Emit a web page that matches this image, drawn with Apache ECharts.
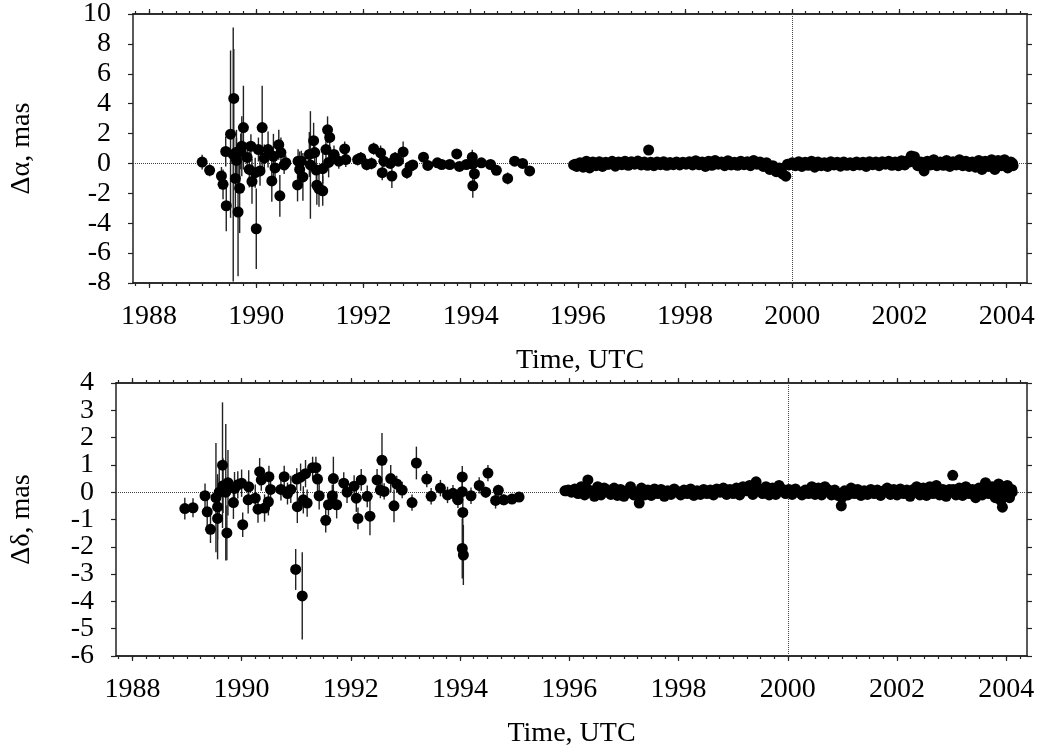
<!DOCTYPE html>
<html>
<head>
<meta charset="utf-8">
<script src="https://cdn.jsdelivr.net/npm/echarts@6/dist/echarts.min.js"></script>
<style>
  html, body { margin: 0; padding: 0; background: #fff; }
  #main { width: 1044px; height: 755px; }
</style>
</head>
<body>
<div id="main"></div>
<script>
// [year, value, error]
var alphaEarly = [
  [1988.99, 0.09, 0.5], [1989.13, -0.46, 0.4], [1989.35, -0.84, 0.6], [1989.38, -1.4, 1.0],
  [1989.44, -2.83, 1.7], [1989.43, 0.8, 1.0], [1989.52, 1.96, 5.6], [1989.57, 0.6, 8.5],
  [1989.58, 4.35, 3.3], [1989.63, 0.75, 1.5], [1989.61, -1.0, 2.0], [1989.66, -3.25, 4.3],
  [1989.69, -1.66, 3.0], [1989.71, 0.81, 1.2], [1989.73, 1.15, 2.0], [1989.76, 2.4, 2.8],
  [1989.63, 0.2, 1.5], [1989.83, 0.4, 1.0], [1989.90, 1.15, 0.8], [1989.92, -1.2, 1.5],
  [1989.87, -0.4, 1.2], [1989.98, -0.62, 1.0], [1990.00, -4.37, 2.7], [1990.04, 0.93, 0.8],
  [1990.11, 2.4, 2.8], [1990.07, -0.5, 1.0], [1990.15, 0.37, 0.9], [1990.22, 0.93, 1.2],
  [1990.29, -1.17, 1.4], [1990.32, 0.48, 1.5], [1990.35, -0.3, 1.0], [1990.42, 1.25, 1.0],
  [1990.44, -2.17, 1.4], [1990.46, 0.73, 1.0], [1990.55, 0.05, 0.5], [1990.52, -0.1, 0.6],
  [1990.77, -1.44, 1.1], [1990.78, 0.15, 0.8], [1990.84, 0.15, 0.7], [1990.81, -0.4, 1.2],
  [1990.87, -0.9, 1.6], [1990.99, 0.6, 1.5], [1991.01, -0.1, 3.6], [1991.07, 1.52, 1.2],
  [1991.09, 0.73, 1.0], [1991.12, -0.44, 1.5], [1991.13, -1.46, 1.3], [1991.17, -1.7, 1.2],
  [1991.24, -1.83, 1.0], [1991.24, -0.35, 1.0], [1991.30, 0.93, 1.0], [1991.33, 2.25, 0.9],
  [1991.37, 1.74, 0.8], [1991.35, 0.07, 1.0], [1991.45, 0.6, 0.6], [1991.54, 0.15, 0.5],
  [1991.65, 0.97, 0.5], [1991.67, 0.26, 0.5], [1991.89, 0.26, 0.4], [1991.95, 0.37, 0.4],
  [1992.06, -0.07, 0.4], [1992.15, 0.0, 0.4], [1992.19, 0.99, 0.4], [1992.32, 0.7, 0.5],
  [1992.35, -0.62, 0.5], [1992.38, 0.15, 0.4], [1992.50, 0.0, 0.3], [1992.53, -0.84, 0.8],
  [1992.59, 0.37, 0.4], [1992.65, 0.15, 0.3], [1992.74, 0.77, 0.7], [1992.81, -0.62, 0.4],
  [1992.87, -0.2, 0.4], [1992.92, -0.1, 0.3], [1993.12, 0.42, 0.3], [1993.20, -0.13, 0.3],
  [1993.38, 0.04, 0.3], [1993.46, -0.07, 0.3], [1993.61, -0.07, 0.3], [1993.74, 0.64, 0.3],
  [1993.79, -0.2, 0.3], [1993.92, -0.07, 0.3], [1994.03, 0.42, 0.5], [1994.04, -0.05, 0.4],
  [1994.07, -0.69, 0.5], [1994.04, -1.5, 0.8], [1994.20, 0.04, 0.3], [1994.37, -0.07, 0.3],
  [1994.48, -0.46, 0.3], [1994.69, -1.0, 0.4], [1994.82, 0.15, 0.3], [1994.97, 0.0, 0.3],
  [1995.10, -0.5, 0.3]
];

var alphaDense = [
  [1995.92, -0.10, 0.1], [1995.98, -0.20, 0.1], [1996.04, 0.05, 0.1], [1996.10, -0.25, 0.15],
  [1996.16, 0.15, 0.1], [1996.22, -0.30, 0.15], [1996.28, 0.10, 0.1], [1996.34, -0.15, 0.1],
  [1996.40, 0.12, 0.1], [1996.46, -0.20, 0.1], [1996.52, 0.08, 0.1], [1996.58, -0.05, 0.1],
  [1996.64, 0.14, 0.1], [1996.70, -0.18, 0.1], [1996.76, 0.10, 0.1], [1996.82, -0.08, 0.1],
  [1996.88, 0.15, 0.1], [1996.94, -0.12, 0.1], [1997.00, 0.12, 0.1], [1997.06, -0.05, 0.1],
  [1997.12, 0.16, 0.1], [1997.18, -0.10, 0.1], [1997.24, 0.10, 0.1], [1997.32, 0.90, 0.1],
  [1997.30, -0.12, 0.1], [1997.36, 0.08, 0.1], [1997.42, -0.15, 0.1], [1997.48, 0.10, 0.1],
  [1997.54, -0.08, 0.1], [1997.60, 0.12, 0.1], [1997.66, -0.12, 0.1], [1997.72, 0.06, 0.1],
  [1997.78, -0.08, 0.1], [1997.84, 0.10, 0.1], [1997.90, -0.10, 0.1], [1997.96, 0.08, 0.1],
  [1998.02, -0.05, 0.1], [1998.08, 0.12, 0.1], [1998.14, -0.10, 0.1], [1998.20, 0.18, 0.1],
  [1998.26, -0.08, 0.1], [1998.32, 0.10, 0.1], [1998.38, -0.20, 0.1], [1998.44, 0.15, 0.1],
  [1998.50, -0.12, 0.1], [1998.56, 0.20, 0.1], [1998.62, -0.05, 0.1], [1998.68, 0.10, 0.1],
  [1998.74, -0.15, 0.1], [1998.80, 0.18, 0.1], [1998.86, -0.10, 0.1], [1998.92, 0.08, 0.1],
  [1998.98, -0.12, 0.1], [1999.04, 0.15, 0.1], [1999.10, -0.08, 0.1], [1999.16, 0.12, 0.1],
  [1999.22, -0.15, 0.1], [1999.28, 0.20, 0.1], [1999.34, -0.05, 0.1], [1999.40, 0.10, 0.1],
  [1999.46, -0.20, 0.1], [1999.52, 0.05, 0.1], [1999.58, -0.40, 0.1], [1999.64, -0.15, 0.1],
  [1999.70, -0.55, 0.1], [1999.76, -0.30, 0.1], [1999.82, -0.70, 0.1], [1999.88, -0.85, 0.1],
  [1999.94, -0.10, 0.1], [2000.00, 0.05, 0.1], [2000.06, -0.15, 0.1], [2000.12, 0.12, 0.1],
  [2000.18, -0.20, 0.1], [2000.24, 0.08, 0.1], [2000.30, -0.12, 0.1], [2000.36, 0.15, 0.1],
  [2000.42, -0.25, 0.1], [2000.48, 0.10, 0.1], [2000.54, -0.15, 0.1], [2000.60, 0.05, 0.1],
  [2000.66, -0.20, 0.1], [2000.72, 0.12, 0.1], [2000.78, -0.10, 0.1], [2000.84, 0.08, 0.1],
  [2000.90, -0.18, 0.1], [2000.96, 0.10, 0.1], [2001.02, -0.12, 0.1], [2001.08, 0.05, 0.1],
  [2001.14, -0.15, 0.1], [2001.20, 0.10, 0.1], [2001.26, -0.10, 0.1], [2001.32, 0.08, 0.1],
  [2001.38, -0.20, 0.1], [2001.44, 0.12, 0.1], [2001.50, -0.08, 0.1], [2001.56, 0.10, 0.1],
  [2001.62, -0.15, 0.1], [2001.68, 0.12, 0.1], [2001.74, -0.05, 0.1], [2001.80, 0.15, 0.1],
  [2001.86, -0.12, 0.1], [2001.92, 0.10, 0.1], [2001.98, -0.15, 0.1], [2002.04, 0.18, 0.1],
  [2002.10, -0.10, 0.1], [2002.16, 0.20, 0.1], [2002.22, 0.50, 0.1], [2002.28, 0.45, 0.1],
  [2002.34, -0.15, 0.1], [2002.40, 0.10, 0.1], [2002.46, -0.50, 0.15], [2002.52, 0.15, 0.1],
  [2002.58, -0.10, 0.1], [2002.64, 0.25, 0.1], [2002.70, -0.15, 0.1], [2002.76, 0.10, 0.1],
  [2002.82, -0.12, 0.1], [2002.88, 0.20, 0.1], [2002.94, -0.20, 0.1], [2003.00, 0.12, 0.1],
  [2003.06, -0.10, 0.1], [2003.12, 0.25, 0.1], [2003.18, -0.15, 0.1], [2003.24, 0.15, 0.1],
  [2003.30, -0.20, 0.1], [2003.36, 0.10, 0.1], [2003.42, -0.25, 0.1], [2003.48, 0.20, 0.1],
  [2003.54, -0.40, 0.15], [2003.60, 0.15, 0.1], [2003.66, -0.20, 0.1], [2003.72, 0.25, 0.1],
  [2003.78, -0.40, 0.15], [2003.84, 0.20, 0.1], [2003.90, -0.15, 0.1], [2003.96, 0.25, 0.1],
  [2004.02, -0.30, 0.15], [2004.08, 0.10, 0.1], [2004.12, -0.15, 0.1]
];

// points lying in the middle of the dense band
var alphaDenseMid = [
  [1995.95, -0.05, 0.08], [1996.07, -0.10, 0.08], [1996.19, 0.00, 0.08], [1996.31, -0.05, 0.08],
  [1996.43, 0.02, 0.08], [1996.55, -0.05, 0.08], [1996.67, 0.00, 0.08], [1996.79, 0.02, 0.08],
  [1996.91, 0.00, 0.08], [1997.03, 0.03, 0.08], [1997.15, 0.02, 0.08], [1997.27, 0.00, 0.08],
  [1997.39, -0.02, 0.08], [1997.51, 0.00, 0.08], [1997.63, 0.02, 0.08], [1997.75, 0.00, 0.08],
  [1997.87, 0.00, 0.08], [1997.99, 0.02, 0.08], [1998.11, 0.00, 0.08], [1998.23, 0.03, 0.08],
  [1998.35, -0.03, 0.08], [1998.47, 0.02, 0.08], [1998.59, 0.05, 0.08], [1998.71, 0.00, 0.08],
  [1998.83, 0.03, 0.08], [1998.95, 0.00, 0.08], [1999.07, 0.03, 0.08], [1999.19, 0.00, 0.08],
  [1999.31, 0.05, 0.08], [1999.43, -0.05, 0.08], [1999.55, -0.15, 0.08], [1999.67, -0.30, 0.08],
  [1999.79, -0.50, 0.08], [1999.91, -0.05, 0.08], [2000.03, -0.05, 0.08], [2000.15, -0.03, 0.08],
  [2000.27, -0.05, 0.08], [2000.39, -0.02, 0.08], [2000.51, -0.05, 0.08], [2000.63, -0.08, 0.08],
  [2000.75, 0.00, 0.08], [2000.87, -0.05, 0.08], [2000.99, -0.03, 0.08], [2001.11, -0.05, 0.08],
  [2001.23, 0.00, 0.08], [2001.35, -0.05, 0.08], [2001.47, 0.00, 0.08], [2001.59, -0.03, 0.08],
  [2001.71, 0.02, 0.08], [2001.83, 0.00, 0.08], [2001.95, -0.02, 0.08], [2002.07, 0.03, 0.08],
  [2002.19, 0.10, 0.08], [2002.31, 0.05, 0.08], [2002.43, -0.10, 0.08], [2002.55, 0.02, 0.08],
  [2002.67, 0.05, 0.08], [2002.79, 0.00, 0.08], [2002.91, 0.02, 0.08], [2003.03, 0.00, 0.08],
  [2003.15, 0.05, 0.08], [2003.27, -0.05, 0.08], [2003.39, 0.00, 0.08], [2003.51, -0.08, 0.08],
  [2003.63, 0.00, 0.08], [2003.75, -0.05, 0.08], [2003.87, 0.02, 0.08], [2003.99, -0.05, 0.08],
  [2004.11, 0.00, 0.08]
];

var deltaEarly = [
  [1988.96, -0.6, 0.4], [1989.11, -0.57, 0.35], [1989.33, -0.13, 0.45], [1989.37, -0.72, 0.6],
  [1989.43, -1.36, 0.5], [1989.53, -0.2, 2.0], [1989.59, 0.0, 1.0], [1989.56, -0.54, 1.2],
  [1989.56, -0.96, 1.5], [1989.66, 0.24, 1.0], [1989.65, 0.99, 2.3], [1989.71, 0.0, 2.5],
  [1989.75, 0.35, 1.2], [1989.73, -1.49, 1.0], [1989.87, 0.14, 0.6], [1989.85, -0.38, 0.6],
  [1989.93, 0.27, 0.5], [1990.00, 0.33, 0.5], [1990.02, -1.19, 0.45], [1990.12, -0.28, 0.5],
  [1990.13, 0.2, 0.6], [1990.25, -0.22, 0.5], [1990.30, -0.62, 0.5], [1990.33, 0.75, 0.5],
  [1990.36, 0.45, 0.4], [1990.42, -0.58, 0.5], [1990.49, -0.35, 0.5], [1990.50, 0.57, 0.4],
  [1990.53, 0.1, 0.4], [1990.72, 0.1, 0.4], [1990.78, 0.57, 0.4], [1990.84, -0.05, 0.4],
  [1990.90, 0.1, 0.5], [1990.99, -2.83, 0.75], [1991.01, 0.48, 0.4], [1991.02, -0.53, 0.6],
  [1991.08, 0.55, 0.5], [1991.11, -3.8, 1.6], [1991.13, -0.28, 0.5], [1991.17, 0.68, 0.5],
  [1991.20, -0.4, 0.5], [1991.30, 0.9, 0.4], [1991.36, 0.9, 0.4], [1991.39, 0.48, 0.5],
  [1991.42, -0.13, 0.5], [1991.54, -1.03, 0.45], [1991.59, -0.46, 0.4], [1991.66, -0.13, 0.4],
  [1991.68, 0.5, 0.8], [1991.74, -0.46, 0.5], [1991.87, 0.33, 0.4], [1991.93, 0.0, 0.4],
  [1992.06, 0.22, 0.4], [1992.13, -0.96, 0.4], [1992.10, -0.22, 0.5], [1992.19, 0.45, 0.4],
  [1992.30, -0.15, 0.4], [1992.35, -0.88, 0.7], [1992.48, 0.45, 0.4], [1992.57, 1.17, 1.0],
  [1992.54, 0.08, 0.3], [1992.61, 0.03, 0.3], [1992.73, 0.5, 0.5], [1992.79, -0.5, 0.6],
  [1992.84, 0.3, 0.3], [1992.94, 0.08, 0.3], [1993.12, -0.38, 0.3], [1993.20, 1.07, 0.6],
  [1993.39, 0.48, 0.3], [1993.47, -0.15, 0.3], [1993.64, 0.15, 0.3], [1993.77, -0.1, 0.3],
  [1993.87, -0.04, 0.3], [1993.96, -0.28, 0.3], [1994.04, 0.56, 0.4], [1994.04, 0.02, 0.4],
  [1994.05, -0.74, 0.8], [1994.04, -2.06, 1.1], [1994.06, -2.3, 1.1], [1994.20, -0.13, 0.3],
  [1994.35, 0.25, 0.3], [1994.47, 0.0, 0.2], [1994.51, 0.7, 0.3], [1994.65, -0.3, 0.3],
  [1994.70, 0.07, 0.2], [1994.80, -0.28, 0.2], [1994.95, -0.25, 0.15], [1995.08, -0.18, 0.15]
];

var deltaDense = [
  [1995.92, 0.05, 0.1], [1995.98, 0.08, 0.1], [1996.04, 0.00, 0.1], [1996.10, 0.12, 0.1],
  [1996.16, -0.05, 0.1], [1996.22, 0.20, 0.1], [1996.28, -0.10, 0.1], [1996.34, 0.45, 0.15],
  [1996.40, 0.05, 0.1], [1996.46, -0.15, 0.1], [1996.52, 0.20, 0.1], [1996.58, -0.10, 0.15],
  [1996.64, 0.15, 0.1], [1996.70, 0.05, 0.1], [1996.76, -0.08, 0.1], [1996.82, 0.15, 0.1],
  [1996.88, -0.12, 0.1], [1996.94, 0.10, 0.1], [1997.00, -0.15, 0.1], [1997.06, 0.05, 0.1],
  [1997.12, 0.20, 0.1], [1997.18, -0.10, 0.1], [1997.24, 0.00, 0.1], [1997.28, -0.40, 0.15],
  [1997.32, 0.15, 0.1], [1997.38, -0.10, 0.1], [1997.44, 0.08, 0.1], [1997.50, -0.12, 0.1],
  [1997.56, 0.12, 0.1], [1997.62, -0.05, 0.1], [1997.68, 0.10, 0.1], [1997.74, -0.15, 0.1],
  [1997.80, 0.05, 0.1], [1997.86, -0.08, 0.1], [1997.92, 0.12, 0.1], [1997.98, 0.00, 0.1],
  [1998.04, -0.10, 0.1], [1998.10, 0.08, 0.1], [1998.16, -0.05, 0.1], [1998.22, 0.12, 0.1],
  [1998.28, -0.12, 0.1], [1998.34, 0.05, 0.1], [1998.40, -0.08, 0.1], [1998.46, 0.10, 0.1],
  [1998.52, -0.05, 0.1], [1998.58, 0.08, 0.1], [1998.64, -0.10, 0.1], [1998.70, 0.12, 0.1],
  [1998.76, 0.00, 0.1], [1998.82, 0.15, 0.1], [1998.88, -0.08, 0.1], [1998.94, 0.10, 0.1],
  [1999.00, -0.05, 0.1], [1999.06, 0.15, 0.1], [1999.12, -0.10, 0.1], [1999.18, 0.20, 0.1],
  [1999.24, 0.05, 0.1], [1999.30, 0.25, 0.1], [1999.36, -0.08, 0.1], [1999.42, 0.38, 0.1],
  [1999.48, 0.10, 0.1], [1999.54, -0.05, 0.1], [1999.60, 0.20, 0.1], [1999.66, -0.10, 0.1],
  [1999.72, 0.15, 0.1], [1999.78, -0.08, 0.1], [1999.84, 0.25, 0.1], [1999.90, 0.05, 0.1],
  [1999.96, -0.05, 0.1], [2000.02, 0.10, 0.1], [2000.08, -0.08, 0.1], [2000.14, 0.12, 0.1],
  [2000.20, 0.00, 0.1], [2000.26, -0.10, 0.1], [2000.32, 0.08, 0.1], [2000.38, -0.05, 0.1],
  [2000.44, 0.20, 0.1], [2000.50, -0.08, 0.1], [2000.56, 0.15, 0.1], [2000.62, -0.10, 0.1],
  [2000.68, 0.20, 0.1], [2000.74, 0.05, 0.1], [2000.80, -0.10, 0.1], [2000.86, 0.08, 0.1],
  [2000.92, -0.12, 0.1], [2000.98, -0.50, 0.2], [2001.04, 0.05, 0.1], [2001.10, -0.10, 0.1],
  [2001.16, 0.15, 0.1], [2001.22, -0.05, 0.1], [2001.28, 0.10, 0.1], [2001.34, -0.12, 0.1],
  [2001.40, 0.05, 0.1], [2001.46, -0.08, 0.1], [2001.52, 0.10, 0.1], [2001.58, -0.05, 0.1],
  [2001.64, 0.08, 0.1], [2001.70, -0.12, 0.1], [2001.76, 0.05, 0.1], [2001.82, 0.15, 0.1],
  [2001.88, -0.08, 0.1], [2001.94, 0.10, 0.1], [2002.00, -0.10, 0.1], [2002.06, 0.12, 0.1],
  [2002.12, -0.05, 0.1], [2002.18, 0.08, 0.1], [2002.24, -0.15, 0.1], [2002.30, 0.10, 0.1],
  [2002.36, 0.20, 0.1], [2002.42, -0.10, 0.1], [2002.48, 0.15, 0.1], [2002.54, -0.12, 0.1],
  [2002.60, 0.20, 0.1], [2002.66, -0.05, 0.1], [2002.72, 0.25, 0.1], [2002.78, -0.10, 0.1],
  [2002.84, 0.10, 0.1], [2002.90, -0.15, 0.1], [2002.96, 0.10, 0.1], [2003.02, 0.62, 0.15],
  [2003.08, -0.10, 0.1], [2003.14, 0.15, 0.1], [2003.20, -0.12, 0.1], [2003.26, 0.20, 0.1],
  [2003.32, -0.05, 0.1], [2003.38, 0.10, 0.1], [2003.44, -0.20, 0.15], [2003.50, 0.15, 0.1],
  [2003.56, -0.10, 0.1], [2003.62, 0.35, 0.15], [2003.68, -0.05, 0.1], [2003.74, 0.20, 0.1],
  [2003.80, -0.20, 0.15], [2003.86, 0.30, 0.1], [2003.90, -0.30, 0.1], [2003.93, -0.55, 0.15],
  [2003.94, 0.20, 0.1], [2003.98, -0.10, 0.1], [2004.02, 0.25, 0.1], [2004.06, -0.20, 0.1],
  [2004.10, 0.10, 0.1]
];

var deltaDenseMid = [
  [1995.95, 0.05, 0.08], [1996.07, 0.05, 0.08], [1996.19, 0.08, 0.08], [1996.31, 0.15, 0.08],
  [1996.43, 0.00, 0.08], [1996.55, 0.05, 0.08], [1996.67, 0.10, 0.08], [1996.79, 0.02, 0.08],
  [1996.91, 0.00, 0.08], [1997.03, -0.05, 0.08], [1997.15, 0.05, 0.08], [1997.27, -0.15, 0.08],
  [1997.39, 0.00, 0.08], [1997.51, -0.02, 0.08], [1997.63, 0.02, 0.08], [1997.75, -0.05, 0.08],
  [1997.87, 0.00, 0.08], [1997.99, 0.02, 0.08], [1998.11, -0.02, 0.08], [1998.23, 0.00, 0.08],
  [1998.35, -0.03, 0.08], [1998.47, 0.02, 0.08], [1998.59, -0.02, 0.08], [1998.71, 0.03, 0.08],
  [1998.83, 0.05, 0.08], [1998.95, 0.00, 0.08], [1999.07, 0.05, 0.08], [1999.19, 0.08, 0.08],
  [1999.31, 0.10, 0.08], [1999.43, 0.15, 0.08], [1999.55, 0.08, 0.08], [1999.67, 0.05, 0.08],
  [1999.79, 0.08, 0.08], [1999.91, 0.10, 0.08], [2000.03, 0.02, 0.08], [2000.15, 0.03, 0.08],
  [2000.27, 0.00, 0.08], [2000.39, 0.05, 0.08], [2000.51, 0.02, 0.08], [2000.63, 0.05, 0.08],
  [2000.75, 0.08, 0.08], [2000.87, -0.02, 0.08], [2000.99, -0.20, 0.08], [2001.11, 0.00, 0.08],
  [2001.23, 0.03, 0.08], [2001.35, -0.02, 0.08], [2001.47, 0.00, 0.08], [2001.59, 0.02, 0.08],
  [2001.71, -0.03, 0.08], [2001.83, 0.05, 0.08], [2001.95, 0.02, 0.08], [2002.07, 0.00, 0.08],
  [2002.19, 0.05, 0.08], [2002.31, 0.00, 0.08], [2002.43, 0.05, 0.08], [2002.55, 0.02, 0.08],
  [2002.67, 0.08, 0.08], [2002.79, 0.03, 0.08], [2002.91, 0.00, 0.08], [2003.03, 0.10, 0.08],
  [2003.15, 0.05, 0.08], [2003.27, 0.05, 0.08], [2003.39, 0.00, 0.08], [2003.51, 0.05, 0.08],
  [2003.63, 0.10, 0.08], [2003.75, 0.05, 0.08], [2003.87, 0.05, 0.08], [2003.99, 0.08, 0.08],
  [2004.11, 0.00, 0.08]
];

var yearTicks = [1988, 1990, 1992, 1994, 1996, 1998, 2000, 2002, 2004];
var alphaLabels = [-8, -6, -4, -2, 0, 2, 4, 6, 8, 10];
// labels of the lower panel are split in two sets so none get dropped as overlapping
var deltaLabelsEven = [-6, -4, -2, 0, 2, 4];
var deltaLabelsOdd = [-5, -3, -1, 1, 3];
var xMin = 1987.7, xMax = 2004.38;

var quarterTicks = [];
for (var q = 1987.75; q <= 2004.3; q += 0.25) quarterTicks.push(Math.round(q * 100) / 100);

var FONT = 'Liberation Serif';
var FS = 28;
var INK = '#000';
var FRAME = '#222';

function xAx(grid, pos, major, withLabel, name) {
  return {
    type: 'value', gridIndex: grid, position: pos, min: xMin, max: xMax,
    axisLine: { show: true, onZero: false, lineStyle: { color: FRAME, width: 1.5 } },
    axisTick: { show: true, inside: false, length: major ? 5 : 3, customValues: major ? yearTicks : quarterTicks,
      lineStyle: { color: FRAME, width: 1.2 } },
    axisLabel: { show: withLabel, customValues: yearTicks, margin: 20, color: INK, fontFamily: FONT, fontSize: FS,
      formatter: function (v) { return String(v); } },
    splitLine: { show: false },
    name: name || '', nameLocation: 'middle', nameGap: 64,
    nameTextStyle: { color: INK, fontFamily: FONT, fontSize: FS }
  };
}

function yAx(grid, pos, min, max, step, labels, name, gap, bare) {
  return {
    type: 'value', gridIndex: grid, position: pos, min: min, max: max, interval: step,
    axisLine: { show: !bare, onZero: false, lineStyle: { color: FRAME, width: 1.5 } },
    axisTick: { show: !bare, inside: false, length: 5, lineStyle: { color: FRAME, width: 1.2 } },
    axisLabel: { show: !!labels, customValues: labels || undefined, margin: 22, color: INK, fontFamily: FONT, fontSize: FS,
      showMinLabel: true, showMaxLabel: true,
      formatter: function (v) { return String(v); } },
    splitLine: { show: false },
    name: name || '', nameLocation: 'middle', nameGap: gap || 0, nameRotate: 90,
    nameTextStyle: { color: INK, fontFamily: FONT, fontSize: FS }
  };
}

function errBar(params, api) {
  var x = api.value(0), y = api.value(1), e = api.value(2);
  var a = api.coord([x, y - e]);
  var b = api.coord([x, y + e]);
  return {
    type: 'line',
    shape: { x1: a[0], y1: a[1], x2: b[0], y2: b[1] },
    style: { stroke: '#222', lineWidth: 1.4 }
  };
}

function panelSeries(data, xi, yi) {
  return [
    {
      type: 'custom', xAxisIndex: xi, yAxisIndex: yi, clip: true, silent: true,
      renderItem: errBar, encode: { x: 0, y: 1 }, data: data, z: 2
    },
    {
      type: 'scatter', xAxisIndex: xi, yAxisIndex: yi, symbol: 'circle', symbolSize: 11,
      itemStyle: { color: '#000', opacity: 1 }, data: data.map(function (d) { return [d[0], d[1]]; }), z: 3,
      silent: true, clip: true,
      markLine: {
        silent: true, symbol: 'none', label: { show: false }, z: 1,
        lineStyle: { type: 'dotted', color: '#444', width: 1 },
        data: [{ yAxis: 0 }, { xAxis: 2000 }]
      }
    }
  ];
}

var option = {
  backgroundColor: '#fff',
  animation: false,
  grid: [
    { left: 127, right: 17, top: 11, height: 272 },
    { left: 110, right: 17, top: 383, height: 273 }
  ],
  xAxis: [
    xAx(0, 'bottom', true, true, 'Time, UTC'),
    xAx(0, 'bottom', false, false),
    xAx(0, 'top', true, false),
    xAx(0, 'top', false, false),
    xAx(1, 'bottom', true, true, 'Time, UTC'),
    xAx(1, 'bottom', false, false),
    xAx(1, 'top', true, false),
    xAx(1, 'top', false, false)
  ],
  yAxis: [
    yAx(0, 'left', -8, 10, 2, alphaLabels, 'Δα, mas', 97),
    yAx(0, 'right', -8, 10, 2, null),
    yAx(1, 'left', -6, 4, 1, deltaLabelsEven, 'Δδ, mas', 80),
    yAx(1, 'right', -6, 4, 1, null),
    yAx(1, 'left', -6, 4, 1, deltaLabelsOdd, '', 0, true)
  ],
  series: [].concat(
    panelSeries(alphaEarly.concat(alphaDense, alphaDenseMid), 0, 0),
    panelSeries(deltaEarly.concat(deltaDense, deltaDenseMid), 4, 2)
  )
};

var chart = echarts.init(document.getElementById('main'));
chart.setOption(option);
</script>
</body>
</html>
